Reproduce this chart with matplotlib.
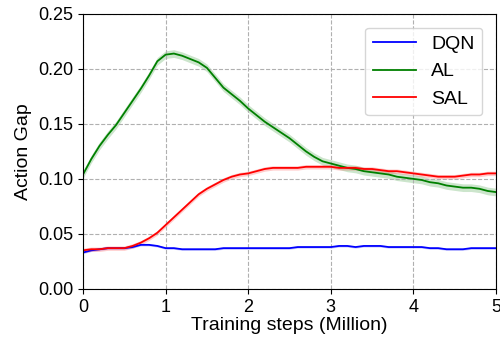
import numpy as np
import matplotlib
matplotlib.use('Agg')
import matplotlib.pyplot as plt

plt.rcParams['font.family'] = ['Liberation Sans', 'DejaVu Sans']

# training steps (Million), every 0.1
steps = np.round(np.arange(0, 5.01, 0.1), 1)

dqn = [0.033, 0.035, 0.036, 0.037, 0.037, 0.037, 0.038, 0.040, 0.040, 0.039,
       0.037, 0.037, 0.036, 0.036, 0.036, 0.036, 0.036, 0.037, 0.037, 0.037,
       0.037, 0.037, 0.037, 0.037, 0.037, 0.037, 0.038, 0.038, 0.038, 0.038,
       0.038, 0.039, 0.039, 0.038, 0.039, 0.039, 0.039, 0.038, 0.038, 0.038,
       0.038, 0.038, 0.037, 0.037, 0.036, 0.036, 0.036, 0.037, 0.037, 0.037,
       0.037]
al = [0.104, 0.118, 0.130, 0.140, 0.149, 0.160, 0.171, 0.182, 0.194, 0.207,
      0.213, 0.214, 0.212, 0.209, 0.206, 0.201, 0.192, 0.183, 0.177, 0.171,
      0.164, 0.158, 0.152, 0.147, 0.142, 0.137, 0.131, 0.125, 0.120, 0.116,
      0.114, 0.112, 0.110, 0.109, 0.107, 0.106, 0.105, 0.104, 0.102, 0.101,
      0.100, 0.099, 0.097, 0.096, 0.094, 0.093, 0.092, 0.092, 0.091, 0.089,
      0.088]
sal = [0.035, 0.036, 0.036, 0.037, 0.037, 0.037, 0.039, 0.042, 0.046, 0.051,
       0.058, 0.065, 0.072, 0.079, 0.086, 0.091, 0.095, 0.099, 0.102, 0.104,
       0.105, 0.107, 0.109, 0.110, 0.110, 0.110, 0.110, 0.111, 0.111, 0.111,
       0.111, 0.110, 0.110, 0.110, 0.109, 0.109, 0.108, 0.107, 0.107, 0.106,
       0.105, 0.104, 0.103, 0.102, 0.102, 0.102, 0.103, 0.104, 0.104, 0.105,
       0.105]

# shaded spread per series
bands = {'DQN': 0.001, 'AL': 0.0035, 'SAL': 0.002}
colors = {'DQN': 'blue', 'AL': 'green', 'SAL': 'red'}
series = {'DQN': dqn, 'AL': al, 'SAL': sal}

fig = plt.figure(figsize=(5, 3.41), dpi=100)
ax = fig.add_axes([0.166, 0.153, 0.826, 0.806])

for nome, vals in series.items():
    v = np.array(vals)
    ax.plot(steps, v, color=colors[nome], lw=1.3, label=nome)
    ax.fill_between(steps, v - bands[nome], v + bands[nome],
                    color=colors[nome], alpha=0.2, lw=0)

ax.set_xlim(0, 5)
ax.set_ylim(0, 0.25)
ax.set_xticks([0, 1, 2, 3, 4, 5])
ax.set_yticks([0.0, 0.05, 0.10, 0.15, 0.20, 0.25])
ax.set_yticklabels(['0.00', '0.05', '0.10', '0.15', '0.20', '0.25'])
ax.tick_params(labelsize=13)
ax.grid(True, linestyle='--', color='#b0b0b0', lw=0.8)
ax.set_xlabel('Training steps (Million)', fontsize=14, labelpad=1)
ax.set_ylabel('Action Gap', fontsize=14, labelpad=4)
ax.legend(loc='upper right', fontsize=14, handlelength=2.2, borderaxespad=0.7)

fig.savefig('out.png', dpi=100)
